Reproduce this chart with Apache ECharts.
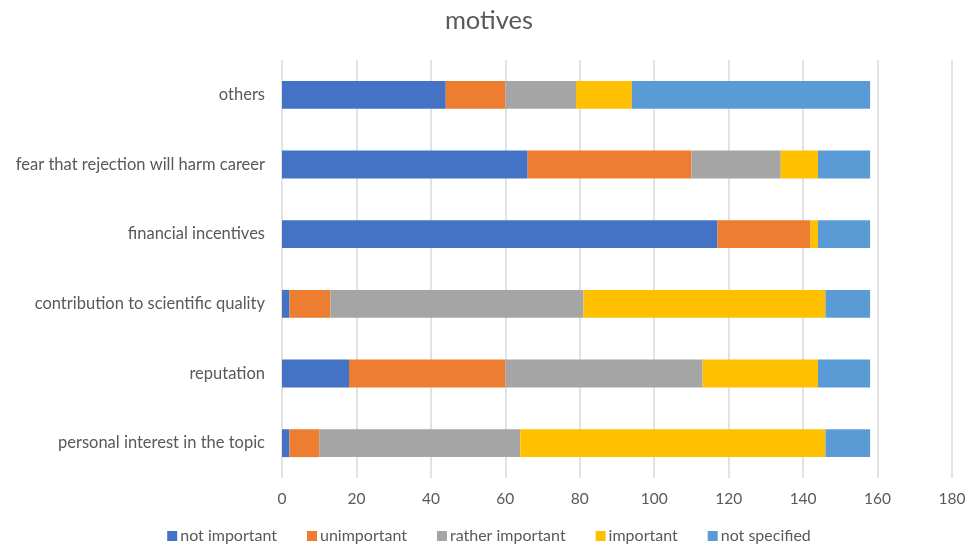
<!DOCTYPE html>
<html><head><meta charset="utf-8">
<script src="https://cdn.jsdelivr.net/npm/echarts@6/dist/echarts.min.js"></script>
<style>html,body{margin:0;padding:0;background:#fff}#c{width:978px;height:550px}</style>
</head><body><div id="c"></div>
<script>
const categories = ['personal interest in the topic','reputation','contribution to scientific quality','financial incentives','fear that rejection will harm career','others'];
const notImportant = [2, 18, 2, 117, 66, 44];
const unimportant = [8, 42, 11, 25, 44, 16];
const ratherImportant = [54, 53, 68, 0, 24, 19];
const important = [82, 31, 65, 2, 10, 15];
const notSpecified = [12, 14, 12, 14, 14, 64];
const xTicks = [0, 20, 40, 60, 80, 100, 120, 140, 160, 180];
const seriesNames = ['not important','unimportant','rather important','important','not specified'];
const colors = ['#4472C4','#ED7D31','#A5A5A5','#FFC000','#5B9BD5'];
const seriesData = [notImportant, unimportant, ratherImportant, important, notSpecified];

const chart = echarts.init(document.getElementById('c'));
const font = 'Lato, "Open Sans", sans-serif';
chart.setOption({
  animation: false,
  color: colors,
  title: { text: 'motives', left: 'center', top: 3, textStyle: { fontFamily: font, fontSize: 25.5, fontWeight: 'normal', color: '#595959' } },
  grid: { left: 282, right: 26, top: 60, bottom: 72 },
  legend: { bottom: 1, left: 'center', itemWidth: 10, itemHeight: 10, itemGap: 30, icon: 'rect',
    textStyle: { fontFamily: font, fontSize: 16, color: '#595959', padding: [0,0,0,-2] } },
  xAxis: { type: 'value', min: xTicks[0], max: xTicks[xTicks.length-1], interval: 20,
    axisLine: { show: false }, axisTick: { show: false },
    axisLabel: { fontFamily: font, fontSize: 15.5, color: '#595959', margin: 13 },
    splitLine: { lineStyle: { color: '#D9D9D9', width: 1.5 } } },
  yAxis: { type: 'category', data: categories,
    axisLine: { show: false }, axisTick: { show: false },
    axisLabel: { fontFamily: font, fontSize: 16.5, color: '#595959', margin: 17 } },
  series: seriesData.map((d, i) => ({ name: seriesNames[i], type: 'bar', stack: 'total', data: d, barWidth: '40%' }))
});
</script></body></html>
